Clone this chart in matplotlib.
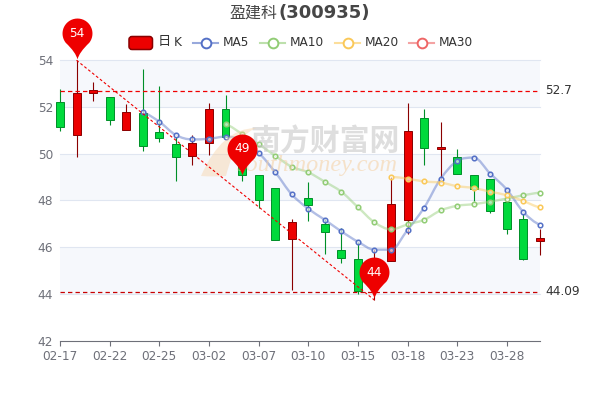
import numpy as np
import matplotlib
matplotlib.use("Agg")
import matplotlib.pyplot as plt
from matplotlib.path import Path
from matplotlib.patches import PathPatch, FancyBboxPatch
from matplotlib.transforms import Affine2D

plt.rcParams['font.family'] = ['DejaVu Sans', 'Noto Sans CJK SC']

# Candles (02-17 .. 03-31)
k_open = [52.23, 50.8, 52.59, 52.41, 51.01, 51.73, 50.91, 50.41, 49.91, 50.44,
          51.9, 50.2, 49.08, 48.51, 46.36, 48.11, 47.01, 45.89, 45.51, 44.5,
          45.41, 47.18, 51.51, 50.2, 49.87, 49.08, 48.9, 47.93, 47.22, 46.26]
k_close = [51.16, 52.59, 52.73, 51.44, 51.77, 50.34, 50.66, 49.84, 50.44, 51.9,
           50.7, 49.08, 48.0, 46.31, 47.09, 47.8, 46.64, 45.54, 44.1, 45.4,
           47.83, 50.97, 50.23, 50.27, 49.11, 48.48, 47.55, 46.78, 45.5, 46.4]
k_low = [50.99, 49.87, 52.27, 51.23, 51.01, 50.13, 50.51, 48.83, 49.51, 49.94,
         50.7, 48.83, 47.68, 46.31, 44.17, 47.12, 45.71, 45.31, 44.0, 43.73,
         45.41, 46.55, 49.51, 48.9, 49.11, 47.98, 47.47, 46.54, 45.43, 45.67]
k_high = [52.76, 54.0, 53.07, 52.41, 52.13, 53.61, 52.9, 50.73, 50.8, 52.16,
          52.51, 50.3, 49.08, 48.51, 47.21, 48.8, 47.2, 46.81, 46.22, 45.9,
          49.0, 52.16, 51.9, 51.34, 50.18, 49.08, 48.9, 47.93, 47.41, 46.79]

# Moving averages, each one ends on the last candle
ma5 = [51.77, 51.37, 50.8, 50.61, 50.64, 50.73, 50.58, 50.04, 49.21, 48.26, 47.64, 47.17,
       46.67, 46.23, 45.89, 45.89, 46.74, 47.69, 48.93, 49.69, 49.83, 49.14, 48.46, 47.5, 46.96]
ma10 = [51.26, 50.85, 50.41, 49.91, 49.44, 49.2, 48.8, 48.37, 47.71, 47.06, 46.76, 46.97,
        47.17, 47.57, 47.77, 47.84, 47.95, 48.08, 48.22, 48.33]
ma20 = [49.01, 48.93, 48.81, 48.76, 48.61, 48.53, 48.37, 48.22, 47.97, 47.7]

tick_idx = [0, 3, 6, 9, 12, 15, 18, 21, 24, 27]
tick_labels = ['02-17', '02-22', '02-25', '03-02', '03-07', '03-10', '03-15', '03-18', '03-23', '03-28']
y_ticks = [42, 44, 46, 48, 50, 52, 54]

pin_idx = [1, 11, 19]
pin_values = [54.05, 49.1, 43.8]
pin_labels = ['54', '49', '44']
high_line = 52.7
low_line = 44.09
trend_idx = [1, 19]
trend_values = [54.0, 43.73]

RED, RED_EDGE = '#ec0000', '#8a0000'
GREEN, GREEN_EDGE = '#00da3c', '#008f28'
C5, C10, C20, C30 = '#5470c6', '#91cc75', '#fac858', '#ee6666'
AXIS = '#6e7079'
TXT = '#333333'

fig = plt.figure(figsize=(6, 4), dpi=100)
ax = fig.add_axes([60 / 600, 1 - 340.5 / 400, 480 / 600, 280.2 / 400])
# pixel coordinates of the picture, y going down
px = Affine2D().scale(1, -1).translate(0, 400)

ax.set_xlim(0, 29)
ax.set_ylim(42, 54)
for s in ['top', 'left', 'right']:
    ax.spines[s].set_visible(False)
ax.spines['bottom'].set_color(AXIS)
ax.spines['bottom'].set_linewidth(0.8)

# alternating bands and grid
for lo in [44, 48, 52]:
    ax.axhspan(lo, lo + 2, color='#f6f8fc', lw=0, zorder=0)
for y in y_ticks[1:]:
    ax.axhline(y, color='#e0e6f1', lw=0.8, zorder=1, clip_on=False)

ax.set_yticks(y_ticks)
ax.set_xticks(tick_idx)
ax.set_xticklabels(tick_labels)
ax.tick_params(axis='y', length=0, pad=5, labelsize=8.7, labelcolor=AXIS)
ax.tick_params(axis='x', length=3.6, width=0.8, color=AXIS, pad=3.5, labelsize=8.7, labelcolor=AXIS)

# candles
xs = np.arange(len(k_open))
for i in xs:
    up = k_close[i] >= k_open[i]
    fill, edge = (RED, RED_EDGE) if up else (GREEN, GREEN_EDGE)
    ax.vlines(i, k_low[i], k_high[i], color=edge, lw=0.8, zorder=2, clip_on=False)
    ax.bar(i, abs(k_close[i] - k_open[i]), bottom=min(k_open[i], k_close[i]), width=0.48,
           color=fill, edgecolor=edge, linewidth=0.7, zorder=3, clip_on=False)


def smooth_line(values, color):
    x = np.arange(len(xs) - len(values), len(xs), dtype=float)
    y = np.array(values, dtype=float)
    verts = [(x[0], y[0])]
    codes = [Path.MOVETO]
    for i in range(len(x) - 1):
        d0 = (y[i + 1] - y[max(i - 1, 0)]) * 0.17
        d1 = (y[min(i + 2, len(y) - 1)] - y[i]) * 0.17
        # flat at local turning points so the curve does not overshoot
        if i > 0 and (y[i] - y[i - 1]) * (y[i + 1] - y[i]) <= 0:
            d0 = 0
        if i + 2 < len(y) and (y[i + 1] - y[i]) * (y[i + 2] - y[i + 1]) <= 0:
            d1 = 0
        verts += [(x[i] + 0.35, y[i] + d0), (x[i + 1] - 0.35, y[i + 1] - d1), (x[i + 1], y[i + 1])]
        codes += [Path.CURVE4] * 3
    ax.add_patch(PathPatch(Path(verts, codes), fill=False, edgecolor=color, lw=1.7, alpha=0.45, zorder=4))
    ax.plot(x, y, ls='none', marker='o', ms=3.3, mew=1.1, mec=color, mfc=(1, 1, 1, 0.6), zorder=5, clip_on=False)


smooth_line(ma5, C5)
smooth_line(ma10, C10)
smooth_line(ma20, C20)

# watermark
ax.text(325, 142, '南方财富网', transform=px, ha='center', va='center', fontsize=21.5,
        family='Noto Sans CJK SC', fontweight='bold', color='#c4c4c4', alpha=0.55, zorder=6)
ax.text(317, 166, 'southmoney.com', transform=px, ha='center', va='center', fontsize=17.5,
        family='Liberation Serif', style='italic', color='#f5cfa0', alpha=0.55, zorder=6)
swoosh = Path([(201, 176), (222, 128), (256, 128), (236, 136), (226, 176), (214, 177), (201, 176)],
              [Path.MOVETO, Path.CURVE3, Path.CURVE3, Path.CURVE3, Path.CURVE3, Path.CURVE3, Path.CURVE3])
ax.add_patch(PathPatch(swoosh, transform=px, fc='#f8d3a8', ec='none', alpha=0.45, zorder=6, clip_on=False))

# reference lines
ax.plot(trend_idx, trend_values, color='#f00000', lw=0.8, ls=(0, (2.5, 2)), zorder=7, clip_on=False)
ax.axhline(high_line, color='#f00000', lw=0.9, ls=(0, (3.5, 2.5)), zorder=7)
ax.axhline(low_line, color='#c80000', lw=0.9, ls=(0, (3.5, 2.5)), zorder=7)
ax.annotate(str(high_line), (1, high_line), xycoords=('axes fraction', 'data'), xytext=(3.6, 0),
            textcoords='offset points', va='center', fontsize=8.7, color=TXT)
ax.annotate(str(low_line), (1, low_line), xycoords=('axes fraction', 'data'), xytext=(3.6, 0),
            textcoords='offset points', va='center', fontsize=8.7, color=TXT)

# map pins, tip sits on the value
angles = np.radians(np.arange(-38, 219, 8))
arc = [(15 * np.cos(a), 26 + 15 * np.sin(a)) for a in angles]
pin_verts = [(0, 0), (1.5, 7), arc[0]] + arc[1:] + [(-1.5, 7), (0, 0), (0, 0)]
pin_codes = [Path.MOVETO, Path.CURVE3, Path.CURVE3] + [Path.LINETO] * (len(arc) - 1) + [Path.CURVE3, Path.CURVE3, Path.CLOSEPOLY]
pin_path = Path(pin_verts, pin_codes)
for i, v, t in zip(pin_idx, pin_values, pin_labels):
    ax.plot([i], [v], marker=pin_path, ms=59, mfc='#ee0000', mec='none', ls='none', zorder=8, clip_on=False)
    ax.annotate(t, (i, v), xytext=(0, 18.7), textcoords='offset points', ha='center', va='center',
                color='white', fontsize=8.7, zorder=9, annotation_clip=False)

# title
ax.text(277, 13, '盈建科', transform=px, ha='right', va='center', fontsize=11.5, color='#464646',
        family='Noto Sans CJK SC', fontweight='light')
ax.text(278, 13, '(300935)', transform=px, ha='left', va='center', fontsize=13, color='#464646',
        fontweight='bold', family='DejaVu Sans')

# legend
ax.add_patch(FancyBboxPatch((129, 36.5), 23.5, 13, boxstyle='round,pad=0,rounding_size=3', transform=px,
                            fc=RED, ec=RED_EDGE, lw=1.1, clip_on=False))
ax.text(158, 42, '日', transform=px, va='center', fontsize=9.5, color=TXT, family='Noto Sans CJK SC')
ax.text(174, 43, 'K', transform=px, va='center', fontsize=8.7, color=TXT)
for x0, color, name in [(193, C5, 'MA5'), (260, C10, 'MA10'), (335, C20, 'MA20'), (409, C30, 'MA30')]:
    ax.plot([x0, x0 + 25], [42.5, 42.5], transform=px, color=color, lw=1.5, alpha=0.6, clip_on=False)
    ax.plot([x0 + 12.5], [42.5], transform=px, marker='o', ms=7, mew=1.4, mec=color, mfc='white',
            ls='none', clip_on=False)
    ax.text(x0 + 30, 43, name, transform=px, va='center', fontsize=8.7, color=TXT)

ax.set_xlim(0, 29)
ax.set_ylim(42, 54)
fig.savefig('out.png', dpi=100)
